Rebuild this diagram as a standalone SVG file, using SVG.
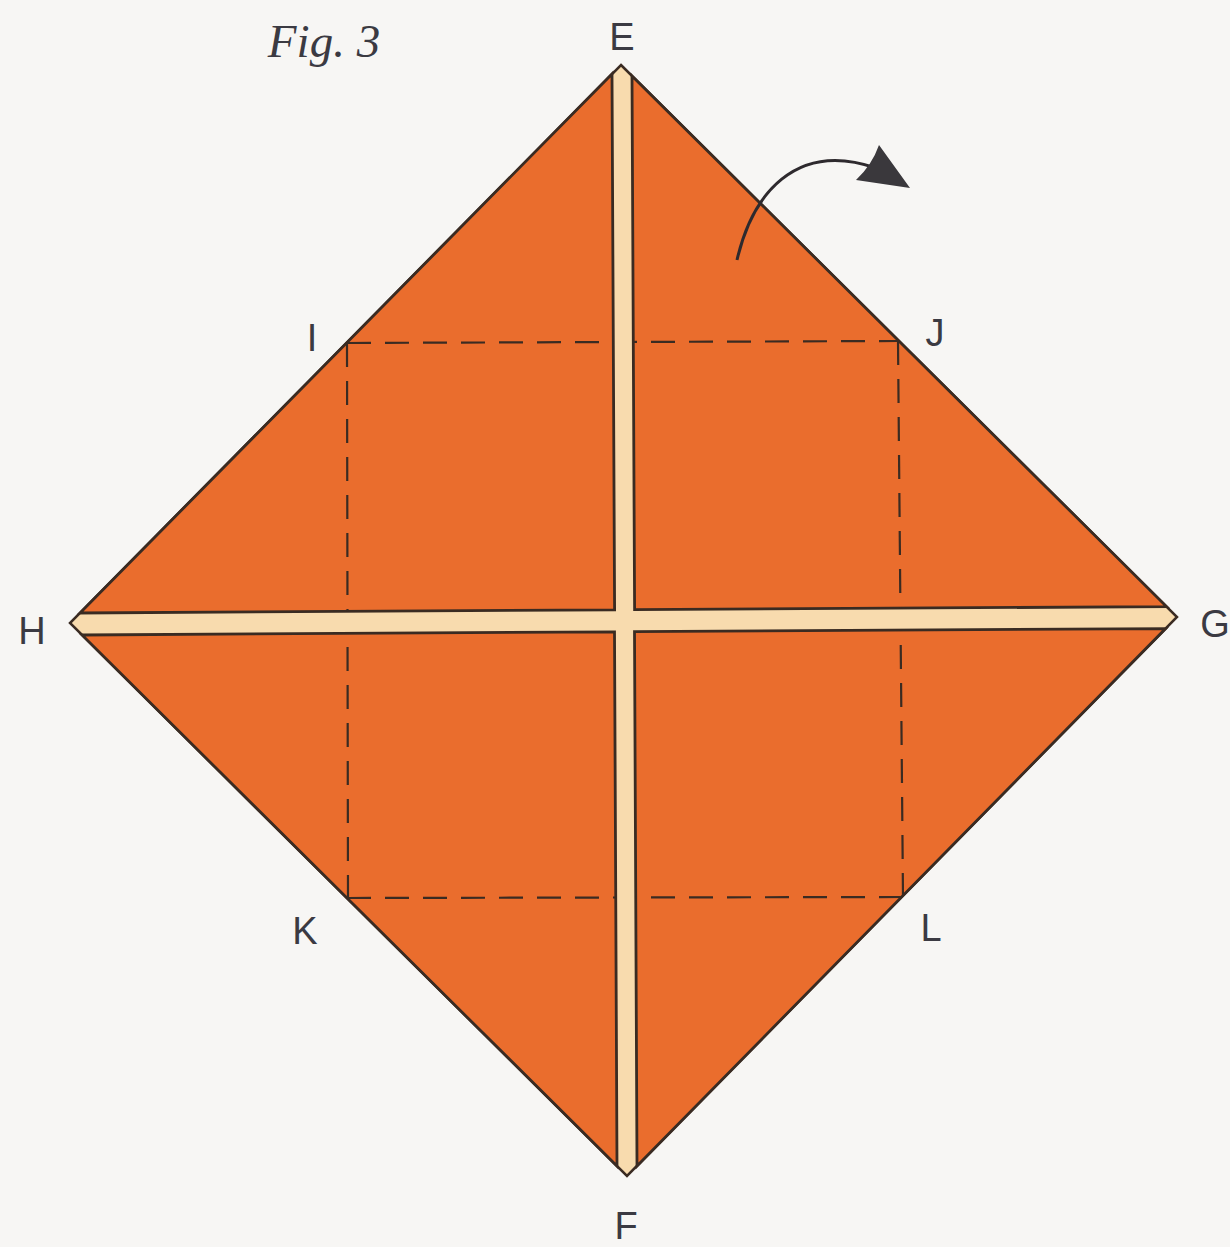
<svg xmlns="http://www.w3.org/2000/svg" width="1230" height="1247" viewBox="0 0 1230 1247">
<style>
.lbl{font-family:"Liberation Sans",Arial,sans-serif;font-size:38px;fill:#3b3a42;text-anchor:middle}
.quad{fill:#ea6d2d;stroke:#3a2b22;stroke-width:2.8;stroke-linejoin:miter}
.dash{fill:none;stroke:#3a2b22;stroke-width:2.2;stroke-dasharray:24 14}
</style>
<defs>
<clipPath id="quads">
<polygon points="612,74 614.6,609.8 80,613"/>
<polygon points="632,76 1166.5,606.6 634.6,609.7"/>
<polygon points="82,635 614.5,631.8 617,1166"/>
<polygon points="634.5,631.7 1165.6,628.6 637,1166"/>
</clipPath>
</defs>
<rect width="1230" height="1247" fill="#f7f6f4"/>
<text x="324" y="57" font-family="'Liberation Serif','Times New Roman',serif" font-style="italic" font-size="47" fill="#3b3a42" text-anchor="middle">Fig. 3</text>
<g id="paper">
<polygon points="621,65 1177,617 627,1176 70,623" fill="#f8dbae" stroke="#3a2b22" stroke-width="2.5"/>
<polygon class="quad" points="612,74 614.6,609.8 80,613"/>
<polygon class="quad" points="632,76 1166.5,606.6 634.6,609.7"/>
<polygon class="quad" points="82,635 614.5,631.8 617,1166"/>
<polygon class="quad" points="634.5,631.7 1165.6,628.6 637,1166"/>
</g>
<g id="fold-square" clip-path="url(#quads)">
<path class="dash" d="M347,343 L898,341"/>
<path class="dash" d="M898,341 L903,897"/>
<path class="dash" d="M903,897 L348,898"/>
<path class="dash" d="M347,343 L348,898"/>
</g>
<g id="connectors">
<path d="M737,260 C752,195 795,140 876,168" fill="none" stroke="#2e2a2e" stroke-width="3"/>
<path d="M910,188 L879,145 Q872,165 856,180 Z" fill="#3a383c"/>
</g>
<g id="labels">
<text class="lbl" x="622" y="50">E</text>
<text class="lbl" x="626" y="1239">F</text>
<text class="lbl" x="32" y="644">H</text>
<text class="lbl" x="1215" y="637">G</text>
<text class="lbl" x="312" y="351">I</text>
<text class="lbl" x="935" y="346">J</text>
<text class="lbl" x="305" y="944">K</text>
<text class="lbl" x="931" y="941">L</text>
</g>
</svg>
